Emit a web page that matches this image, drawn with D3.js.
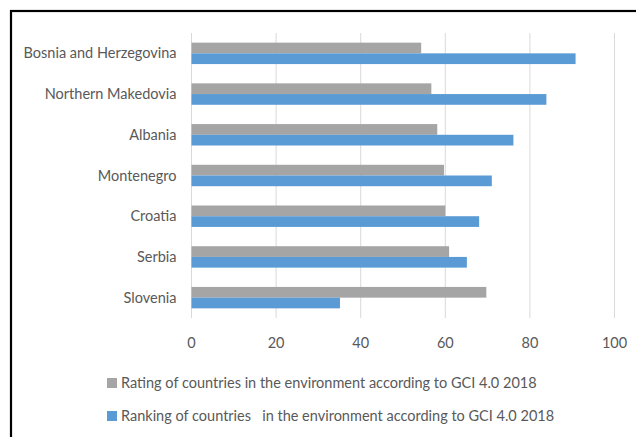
<!DOCTYPE html>
<html>
<head>
<meta charset="utf-8">
<script src="https://cdn.jsdelivr.net/npm/d3@7"></script>
<style>
  body { margin: 0; background: #fff; }
  svg text { font-family: Lato, "Open Sans", sans-serif; fill: #595959; }
</style>
</head>
<body>
<div id="chart"></div>
<script>
// countries top to bottom
var countries = ["Bosnia and Herzegovina", "Northern Makedovia", "Albania", "Montenegro", "Croatia", "Serbia", "Slovenia"];
var rating = [54.3, 56.7, 58.1, 59.7, 60.0, 60.9, 69.7];
var ranking = [90.8, 83.9, 76.1, 71.0, 68.0, 65.1, 35.1];
var xTicks = [0, 20, 40, 60, 80, 100];
var seriesNames = ["Rating of countries in the environment according to GCI 4.0 2018",
                   "Ranking of countries   in the environment according to GCI 4.0 2018"];
var colors = ["#a5a5a5", "#5b9bd5"];

var W = 636, H = 437;
var plotL = 191.5, plotR = 614.5, plotT = 33, plotB = 318;
var fs = 14.5;

var svg = d3.select("#chart").append("svg")
  .attr("width", W)
  .attr("height", H);

// outer frame (only top/left visible in the picture)
svg.append("rect")
  .attr("x", 11).attr("y", 11)
  .attr("width", W).attr("height", H)
  .attr("fill", "none")
  .attr("stroke", "#000")
  .attr("stroke-width", 2.2);

var x = d3.scaleLinear().domain([0, 100]).range([plotL, plotR]);
var y = d3.scaleBand().domain(countries).range([plotT, plotB])
  .paddingInner(0.474).paddingOuter(0.237);
var ySub = d3.scaleBand().domain([0, 1]).range([0, y.bandwidth()]);

// gridlines
svg.append("g").selectAll("line")
  .data(xTicks)
  .enter().append("line")
    .attr("x1", function(d) { return x(d); })
    .attr("x2", function(d) { return x(d); })
    .attr("y1", plotT).attr("y2", plotB)
    .attr("stroke", "#d9d9d9")
    .attr("stroke-width", 1);

// bars
var series = [rating, ranking];
series.forEach(function(vals, si) {
  svg.append("g").selectAll("rect")
    .data(vals)
    .enter().append("rect")
      .attr("x", x(0))
      .attr("y", function(d, i) { return y(countries[i]) + ySub(si); })
      .attr("width", function(d) { return x(d) - x(0); })
      .attr("height", ySub.bandwidth())
      .style("fill", colors[si]);
});

// category labels
svg.append("g").selectAll("text")
  .data(countries)
  .enter().append("text")
    .attr("x", plotL - 15)
    .attr("y", function(d) { return y(d) + y.bandwidth() / 2; })
    .attr("dy", "0.35em")
    .attr("text-anchor", "end")
    .attr("font-size", fs)
    .text(function(d) { return d; });

// x tick labels
svg.append("g").selectAll("text")
  .data(xTicks)
  .enter().append("text")
    .attr("x", function(d) { return x(d); })
    .attr("y", 343)
    .attr("dy", "0.35em")
    .attr("text-anchor", "middle")
    .attr("font-size", fs)
    .text(function(d) { return d; });

// legend
var legend = svg.append("g").selectAll("g")
  .data(seriesNames)
  .enter().append("g")
    .attr("transform", function(d, i) { return "translate(107," + (383 + i * 33) + ")"; });
legend.append("rect")
  .attr("x", 0).attr("y", -5)
  .attr("width", 10).attr("height", 10)
  .style("fill", function(d, i) { return colors[i]; });
legend.append("text")
  .attr("x", 14)
  .attr("dy", "0.35em")
  .attr("font-size", fs)
  .style("white-space", "pre")
  .text(function(d) { return d; });
</script>
</body>
</html>
